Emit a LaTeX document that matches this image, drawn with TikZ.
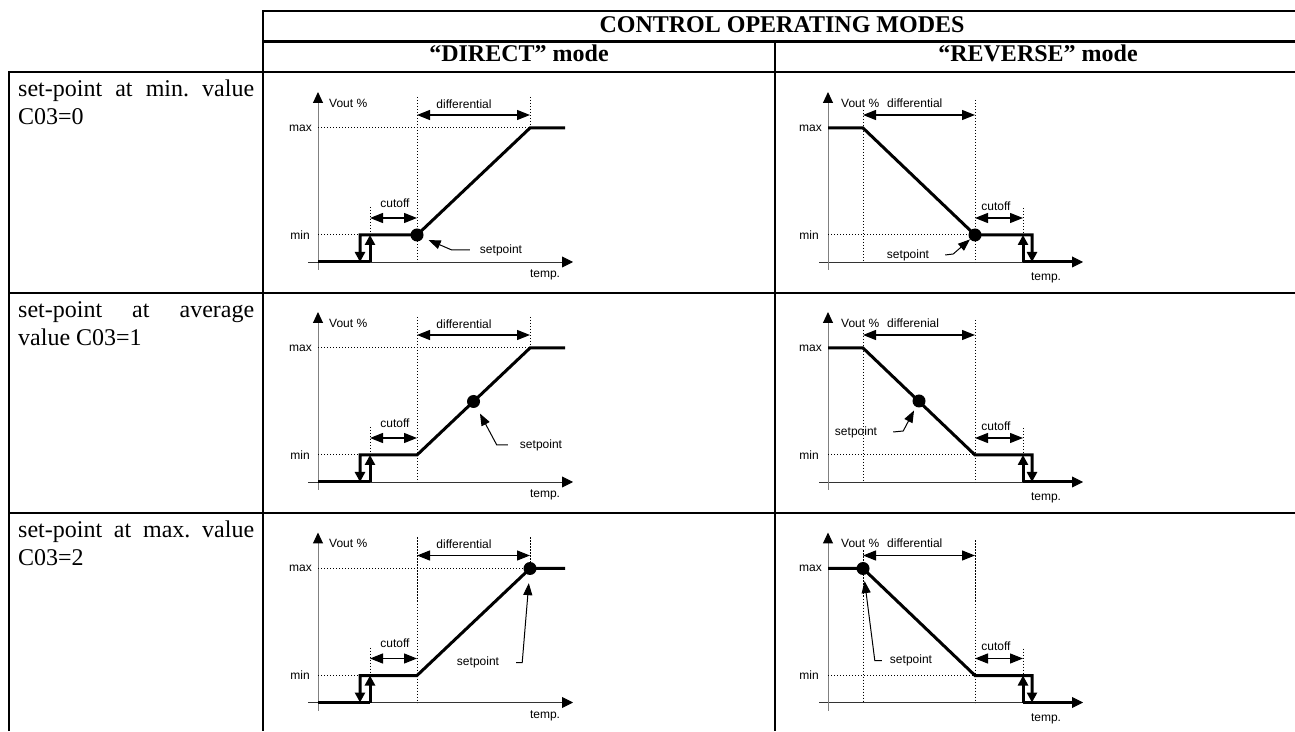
\documentclass[tikz,border=0pt]{standalone}
\usepackage{fontspec}
\setmainfont{Liberation Serif}
\setsansfont{Liberation Sans}
\usetikzlibrary{arrows.meta}
\tolerance=10000
\hyphenpenalty=10000
\exhyphenpenalty=10000
\frenchspacing

\begin{document}
\begin{tikzpicture}[x=1pt,y=1pt,
		tabline/.style={
			line width=2.2pt
		},
		xax/.style={
			draw=black!80,
			line width=0.9pt,
			>={Triangle[length=11pt,width=11pt,color=black]},
			->
		},
		yax/.style={
			draw=black!50,
			line width=1pt,
			>={Triangle[length=11pt,width=10pt,color=black]},
			->
		},
		guide/.style={
			line width=1pt,
			dash pattern=on 1.2pt off 1.8pt
		},
		outline/.style={
			line width=3pt
		},
		stepar/.style={
			line width=3pt,
			>={Triangle[length=10pt,width=10pt]},
			->
		},
		dimarr/.style={
			line width=1.3pt,
			>={Triangle[length=13pt,width=10pt]},
			<->
		},
		ptr/.style={
			line width=1pt,
			>={Triangle[length=12pt,width=9pt]},
			->
		},
		spt/.style={
			circle,
			fill,
			minimum size=13pt,
			inner sep=0pt
		},
		lbl/.style={
			font=\sffamily\fontsize{12}{14}\selectfont,
			inner sep=1pt
		},
		hdr/.style={
			font=\bfseries\fontsize{24}{28}\selectfont,
			inner sep=0pt
		},
		rowtxt/.style={
			text width=236pt,
			align=justify,
			inner sep=0pt,
			font=\fontsize{24}{28}\selectfont
		}
		]
		\useasboundingbox (0,0) rectangle (1295,731);
		
		\draw[tabline] (1295,720) -- (263,720) -- (263,0);
		\draw[tabline] (263,689.5) -- (1295,689.5);
		\draw[tabline] (775,689.5) -- (775,0);
		\draw[tabline] (9,0) -- (9,659) -- (1295,659);
		\draw[tabline] (9,438) -- (1295,438);
		\draw[tabline] (9,218) -- (1295,218);
		
		\node[hdr, anchor=base] (modes) at (782,698) {CONTROL OPERATING MODES};
		\node[hdr, anchor=base] (direct) at (519,669) {“DIRECT” mode};
		\node[hdr, anchor=base] (reverse) at (1038,669) {“REVERSE” mode};
		
		\node[rowtxt, anchor=base west] (rowmin) at (18,634) {set-point at min. value C03=0};
		\node[rowtxt, anchor=base west] (rowavg) at (18,413) {set-point at average value C03=1};
		\node[rowtxt, anchor=base west] (rowmax) at (18,193) {set-point at max. value C03=2};
		
		\foreach \oy/\r/\dtxt in {469/a/differential, 249/b/differenial, 28.5/c/differential}{
			\begin{scope}[shift={(318,\oy)}]
			\draw[xax] (-10,0) -- (255,0);
			\draw[yax] (0,-8) -- (0,170);
			\node[lbl, anchor=west] (vout-d\r) at (10,159) {Vout \%};
			\node[lbl, anchor=east] (max-d\r) at (-5,134) {max};
			\node[lbl, anchor=east] (min-d\r) at (-7,27) {min};
			\node[lbl] (temp-d\r) at (227,-13) {temp.};
			\node[lbl] (diff-d\r) at (146,158) {differential};
			\node[lbl] (cut-d\r) at (77,59) {cutoff};
			\draw[guide] (0,134) -- (212,134) (0,27) -- (42,27) (99,165) -- (99,0)
				(212,165) -- (212,134) (52,55) -- (52,27);
			\draw[outline] (0,0) -- (52,0);
			\draw[stepar] (52,0) -- (52,27);
			\draw[stepar] (247,134) -- (212,134) -- (99,27) -- (42,27) -- (42,0);
			\draw[dimarr] (99,147) -- (212,147);
			\draw[dimarr] (52,44) -- (99,44);
			\end{scope}
			
			\begin{scope}[shift={(828,\oy)}]
			\draw[xax] (-9,0) -- (255,0);
			\draw[yax] (0,-8) -- (0,170);
			\node[lbl, anchor=west] (vout-r\r) at (12,159) {Vout \%};
			\node[lbl, anchor=east] (max-r\r) at (-5,134) {max};
			\node[lbl, anchor=east] (min-r\r) at (-8,27) {min};
			\node[lbl] (temp-r\r) at (218,-16) {temp.};
			\node[lbl, anchor=west] (diff-r\r) at (58,159) {\dtxt};
			\node[lbl] (cut-r\r) at (168,56) {cutoff};
			\draw[guide] (0,27) -- (147,27) (35,152) -- (35,0) (147,162) -- (147,0)
				(195,54) -- (195,27);
			\draw[outline] (195,0) -- (246,0);
			\draw[stepar] (195,0) -- (195,27);
			\draw[stepar] (0,134) -- (35,134) -- (147,27) -- (204,27) -- (204,0);
			\draw[dimarr] (35,147) -- (147,147);
			\draw[dimarr] (147,44) -- (195,44);
			\end{scope}
		}
		
		\begin{scope}[shift={(318,469)}]
		\node[spt] (dot-da) at (99,27) {};
		\node[lbl] (sp-da) at (183,12) {setpoint};
		\draw[ptr, shorten >=6pt] ([xshift=-9pt]sp-da.west) -- ++(-18,0) -- (dot-da);
		\end{scope}
		
		\begin{scope}[shift={(318,249)}]
		\node[spt] (dot-db) at (155.5,80.5) {};
		\node[lbl] (sp-db) at (223,37) {setpoint};
		\draw[ptr, shorten >=7pt] ([xshift=-11pt]sp-db.west) -- ++(-11,0) -- (dot-db);
		\end{scope}
		
		\begin{scope}[shift={(318,28.5)}]
		\node[spt] (dot-dc) at (212,134) {};
		\node[lbl] (sp-dc) at (160,40) {setpoint};
		\draw[ptr, shorten >=8pt] ([xshift=16pt]sp-dc.east) -- ++(6,0) -- (dot-dc);
		\end{scope}
		
		\begin{scope}[shift={(828,469)}]
		\node[spt] (dot-ra) at (147,27) {};
		\node[lbl] (sp-ra) at (80,7) {setpoint};
		\draw[ptr] ([xshift=15pt]sp-ra.east) -- ++(8,1) -- (dot-ra);
		\end{scope}
		
		\begin{scope}[shift={(828,249)}]
		\node[spt] (dot-rb) at (91,81) {};
		\node[lbl] (sp-rb) at (28,50) {setpoint};
		\draw[ptr, shorten >=4pt] ([xshift=15pt]sp-rb.east) -- ++(10,1) -- (dot-rb);
		\end{scope}
		
		\begin{scope}[shift={(828,28.5)}]
		\node[spt] (dot-rc) at (35,134) {};
		\node[lbl] (sp-rc) at (83,42) {setpoint};
		\draw[ptr, shorten >=6pt] ([xshift=-7pt]sp-rc.west) -- ++(-7,0) -- (dot-rc);
		\end{scope}
		
		\end{tikzpicture}
\end{document}
